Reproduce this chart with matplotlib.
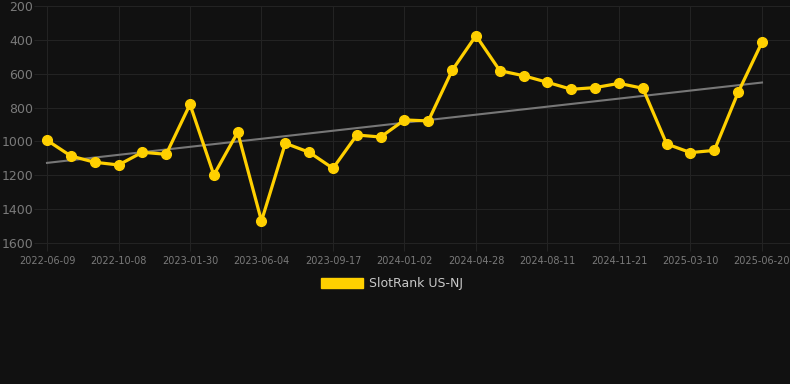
import matplotlib
matplotlib.use("Agg")

import matplotlib.pyplot as plt
import numpy as np


# evenly spaced snapshots, only every third date is labelled
DATES = [
    "2022-06-09", "2022-07-19", "2022-08-28",
    "2022-10-08", "2022-11-15", "2022-12-23",
    "2023-01-30", "2023-03-06", "2023-04-20",
    "2023-06-04", "2023-07-09", "2023-08-13",
    "2023-09-17", "2023-10-24", "2023-11-28",
    "2024-01-02", "2024-02-10", "2024-03-20",
    "2024-04-28", "2024-06-01", "2024-07-06",
    "2024-08-11", "2024-09-16", "2024-10-19",
    "2024-11-21", "2024-12-30", "2025-02-02",
    "2025-03-10", "2025-04-15", "2025-05-18",
    "2025-06-20",
]

RANKS = [
    993, 1086, 1123, 1139, 1064, 1076, 781, 1198, 946, 1470,
    1011, 1064, 1159, 962, 974, 873, 879, 580, 375, 582,
    612, 651, 692, 682, 657, 686, 1015, 1066, 1053, 710,
    414,
]

SERIES_NAME = "SlotRank US-NJ"

BG = "#111111"
GRID = "#232323"
TICK_TXT = "#7a7a7a"
YELLOW = "#ffd000"


fig = plt.figure(
    figsize=(7.9, 3.84),
    dpi=100,
    facecolor=BG
)

ax = fig.add_axes([40 / 790, 141 / 384, 750 / 790, 237 / 384])
ax.set_facecolor(BG)

x = np.arange(len(RANKS))

# trend line (least squares)
k, b = np.polyfit(x, RANKS, 1)
ax.plot(
    x,
    k * x + b,
    color="#777777",
    linewidth=1.5,
    zorder=2
)

ax.plot(
    x,
    RANKS,
    color=YELLOW,
    linewidth=2.3,
    marker="o",
    markersize=7,
    zorder=3,
    label=SERIES_NAME
)

# first point sits 7px in from the left edge, step is ~23.8px
ax.set_xlim(-7 / 23.83, 30 + 28 / 23.83)
ax.set_ylim(1600, 200)

ax.set_yticks(np.arange(200, 1601, 200))
ax.set_xticks(x[::3])
ax.set_xticklabels(DATES[::3])

ax.tick_params(
    axis="y",
    colors=GRID,
    labelcolor=TICK_TXT,
    labelsize=9,
    length=4,
    pad=1
)
ax.tick_params(
    axis="x",
    colors=GRID,
    labelcolor=TICK_TXT,
    labelsize=7,
    length=6,
    pad=3
)

ax.grid(True, color=GRID, linewidth=0.8)
ax.set_axisbelow(True)

for side in ["top", "right", "left"]:
    ax.spines[side].set_visible(False)
ax.spines["bottom"].set_color(GRID)

leg_handle = plt.Rectangle((0, 0), 1, 1, color=YELLOW)
leg = fig.legend(
    [leg_handle],
    [SERIES_NAME],
    loc="center",
    bbox_to_anchor=(392 / 790, 1 - 284 / 384),
    frameon=False,
    fontsize=9,
    handlelength=3.3,
    handleheight=0.9,
    handletextpad=0.5
)
for t in leg.get_texts():
    t.set_color("#c8c8c8")

fig.savefig("out.png", dpi=100, facecolor=BG)
